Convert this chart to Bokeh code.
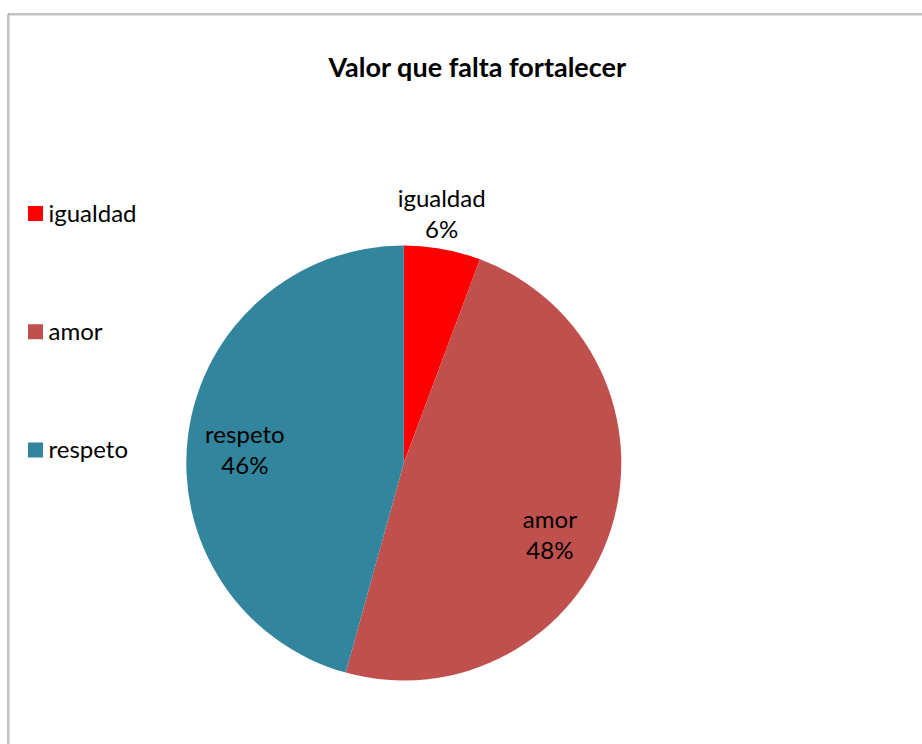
import math
from bokeh.plotting import figure
from bokeh.models import ColumnDataSource, Range1d
from bokeh.core.properties import value
from bokeh.embed import file_html
from bokeh.resources import INLINE

# ---- data ----
title = "Valor que falta fortalecer"
categories = ["igualdad", "amor", "respeto"]
shares = [5.7, 48.6, 45.7]          # slice sizes (percent)
pct_labels = ["6%", "48%", "46%"]   # data-label texts as shown
colors = ["#FF0000", "#C0504D", "#31859C"]

# ---- layout (pixels; data units == canvas pixels) ----
W, H = 922, 744
cx, cy, R = 403.3, 281.5, 217.5
label_r = [243, 167, 159]
label_shift_deg = [-1.3, 11.0, -6.0]
line_gap = 31
text_dy = 9.5
font = "Lato"
fs = "24px"

p = figure(width=W, height=H, output_backend="svg", toolbar_location=None,
           x_range=Range1d(0, W), y_range=Range1d(0, H),
           x_axis_type=None, y_axis_type=None, min_border=0)
p.outline_line_color = None
p.grid.visible = False
p.background_fill_color = "white"
p.border_fill_color = "white"

# frame border (partially outside the picture)
p.line([7.5, 7.5], [-50, 730.5], line_color="#858585", line_width=1)
p.line([7.5, 2000], [730.5, 730.5], line_color="#858585", line_width=1)
p.line([8.5, 8.5], [-50, 729.5], line_color="#C4C4C4", line_width=1)
p.line([8.5, 2000], [729.5, 729.5], line_color="#C4C4C4", line_width=1)

# pie
total = sum(shares)
starts, ends, mids = [], [], []
cum = 0.0
for s in shares:
    a0 = math.pi / 2 - 2 * math.pi * cum / total
    cum += s
    a1 = math.pi / 2 - 2 * math.pi * cum / total
    starts.append(a0)
    ends.append(a1)
    mids.append((a0 + a1) / 2)

src = ColumnDataSource(dict(start=starts, end=ends, color=colors, cat=categories))
p.wedge(x=cx, y=cy, radius=R, start_angle="start", end_angle="end",
        direction="clock", fill_color="color", line_color=None, source=src)

# data labels
lx, ly1, ly2 = [], [], []
for m, r, sh in zip(mids, label_r, label_shift_deg):
    a = m - math.radians(sh)
    x = cx + r * math.cos(a)
    y = cy + r * math.sin(a) + text_dy
    lx.append(x)
    ly1.append(y + line_gap / 2)
    ly2.append(y - line_gap / 2)

p.text(x=lx, y=ly1, text=categories, text_font=value(font), text_font_size=fs,
       text_align="center", text_baseline="alphabetic", text_color="black")
p.text(x=lx, y=ly2, text=pct_labels, text_font=value(font), text_font_size=fs,
       text_align="center", text_baseline="alphabetic", text_color="black")

# legend (manual)
leg_x, leg_y0, leg_step = 35, 531, 118.3
leg_y = [leg_y0 - i * leg_step for i in range(len(categories))]
p.scatter(x=[leg_x] * len(categories), y=leg_y, marker="square", size=15,
          fill_color=colors, line_color=None)
p.text(x=[leg_x + 13] * len(categories), y=[v - 8 + text_dy for v in leg_y], text=categories,
       text_font=value(font), text_font_size=fs, text_align="left",
       text_baseline="alphabetic", text_color="black")

# title
p.text(x=[477], y=[669 + text_dy], text=[title], text_font=value(font), text_font_size="27px",
       text_font_style="bold", text_align="center", text_baseline="alphabetic",
       text_color="black")

open("out.html", "w").write(file_html(p, INLINE))
